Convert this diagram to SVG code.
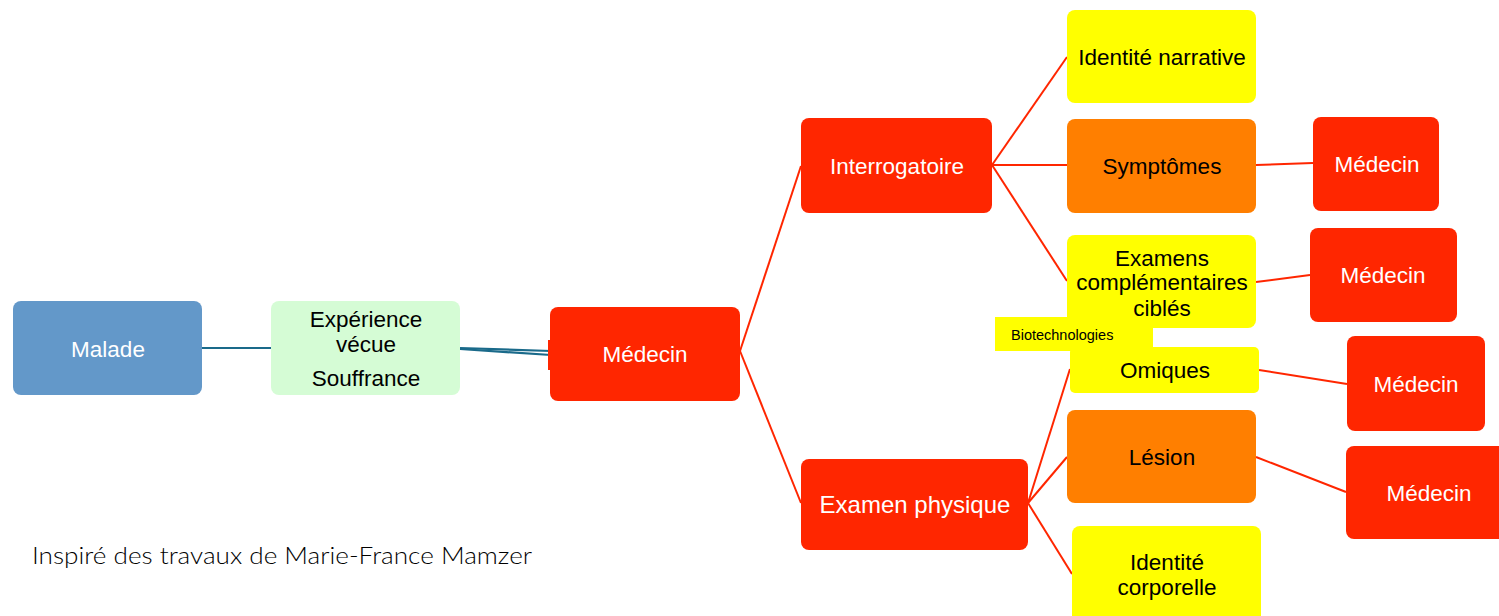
<svg xmlns="http://www.w3.org/2000/svg" width="1499" height="616" viewBox="0 0 1499 616">
<style>
.red{fill:#ff2600}
.org{fill:#ff7f00}
.yel{fill:#ffff00}
.t{font-family:"Liberation Sans",Arial,sans-serif;font-size:22.5px;text-anchor:middle}
.w{fill:#ffffff}
.k{fill:#000000}
.rl{stroke:#ff2600;stroke-width:2;fill:none}
.bl{stroke:#1a6a8a;stroke-width:2.2;fill:none}
</style>
<rect width="1499" height="616" fill="#ffffff"/>
<g id="connectors">
<line class="bl" x1="202" y1="348" x2="272" y2="348"/>
<line class="bl" x1="460" y1="348" x2="551" y2="351"/>
<line class="bl" x1="460" y1="349" x2="551" y2="355"/>
<line class="rl" x1="740" y1="351" x2="801" y2="166"/>
<line class="rl" x1="740" y1="351" x2="801" y2="503"/>
<line class="rl" x1="992" y1="165" x2="1067" y2="57"/>
<line class="rl" x1="992" y1="165" x2="1067" y2="165"/>
<line class="rl" x1="992" y1="165" x2="1067" y2="281"/>
<line class="rl" x1="1256" y1="165" x2="1313" y2="163"/>
<line class="rl" x1="1256" y1="282" x2="1310" y2="275"/>
<line class="rl" x1="1259" y1="370" x2="1347" y2="384"/>
<line class="rl" x1="1256" y1="457" x2="1346" y2="492"/>
<line class="rl" x1="1028" y1="503" x2="1070" y2="369"/>
<line class="rl" x1="1028" y1="503" x2="1067" y2="457"/>
<line class="rl" x1="1028" y1="503" x2="1072" y2="574"/>
</g>
<g id="malade">
<rect x="13" y="301" width="189" height="94" rx="8" fill="#6398c9"/>
<text class="t w" x="108" y="357">Malade</text>
</g>
<g id="experience">
<rect x="271" y="301" width="189" height="94" rx="8" fill="#d5fcd5"/>
<text class="t k" x="366" y="327">Expérience</text>
<text class="t k" x="366" y="352">vécue</text>
<text class="t k" x="366" y="386">Souffrance</text>
</g>
<g id="medecin-main">
<rect x="548" y="340" width="8" height="30" class="red"/>
<rect x="550" y="307" width="190" height="94" rx="8" class="red"/>
<text class="t w" x="645" y="362">Médecin</text>
</g>
<g id="interrogatoire">
<rect x="801" y="118" width="191" height="95" rx="8" class="red"/>
<text class="t w" x="897" y="174">Interrogatoire</text>
</g>
<g id="examen-physique">
<rect x="801" y="459" width="227" height="91" rx="8" class="red"/>
<text class="t w" x="915" y="513" style="font-size:24px">Examen physique</text>
</g>
<g id="identite-narrative">
<rect x="1067" y="10" width="189" height="93" rx="8" class="yel"/>
<text class="t k" x="1162" y="65">Identité narrative</text>
</g>
<g id="symptomes">
<rect x="1067" y="119" width="189" height="94" rx="8" class="org"/>
<text class="t k" x="1162" y="174">Symptômes</text>
</g>
<g id="examens">
<rect x="1067" y="235" width="189" height="93" rx="8" class="yel"/>
<text class="t k" x="1162" y="266">Examens</text>
<text class="t k" x="1162" y="290">complémentaires</text>
<text class="t k" x="1162" y="316">ciblés</text>
</g>
<g id="omiques">
<rect x="1070" y="347" width="189" height="46" rx="5" class="yel"/>
<text class="t k" x="1165" y="378">Omiques</text>
</g>
<g id="biotechnologies">
<rect x="995" y="317" width="158" height="34" class="yel"/>
<text x="1011" y="340" style="font-family:'Liberation Sans',Arial,sans-serif;font-size:14.5px" class="k">Biotechnologies</text>
</g>
<g id="lesion">
<rect x="1067" y="410" width="189" height="93" rx="8" class="org"/>
<text class="t k" x="1162" y="465">Lésion</text>
</g>
<g id="identite-corporelle">
<rect x="1072" y="526" width="189" height="100" rx="8" class="yel"/>
<text class="t k" x="1167" y="570">Identité</text>
<text class="t k" x="1167" y="595">corporelle</text>
</g>
<g id="medecin-1">
<rect x="1313" y="117" width="126" height="94" rx="8" class="red"/>
<text class="t w" x="1377" y="172">Médecin</text>
</g>
<g id="medecin-2">
<rect x="1310" y="228" width="147" height="94" rx="8" class="red"/>
<text class="t w" x="1383" y="283">Médecin</text>
</g>
<g id="medecin-3">
<rect x="1347" y="336" width="138" height="95" rx="8" class="red"/>
<text class="t w" x="1416" y="392">Médecin</text>
</g>
<g id="medecin-4">
<rect x="1346" y="446" width="163" height="93" rx="8" class="red"/>
<text class="t w" x="1429" y="501">Médecin</text>
</g>
<text x="32" y="564" textLength="500" lengthAdjust="spacingAndGlyphs" style="font-family:Lato,'Noto Sans',sans-serif;font-size:24px;font-weight:300" fill="#000000">Inspiré des travaux de Marie-France Mamzer</text>
</svg>
